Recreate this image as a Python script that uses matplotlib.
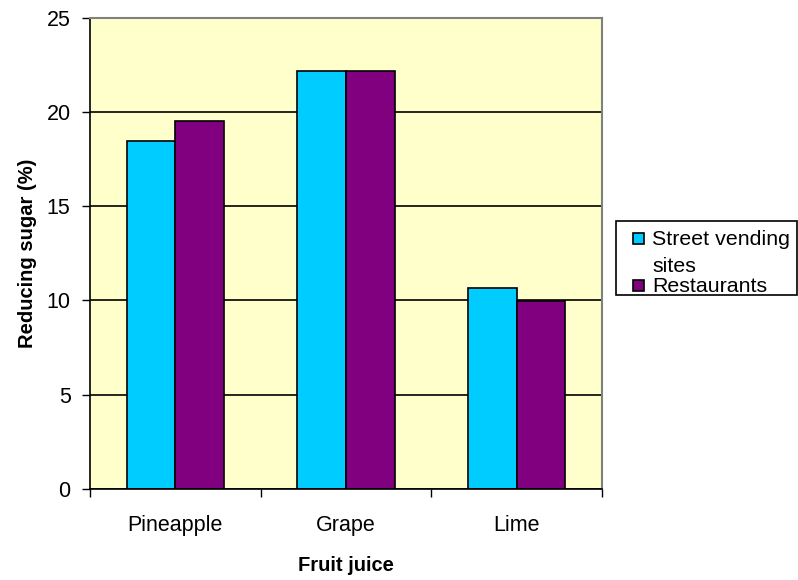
import matplotlib.pyplot as plt
import numpy as np
from matplotlib.patches import Rectangle

plt.rcParams["font.family"] = ["Liberation Sans", "DejaVu Sans"]

# Reducing sugar content of fruit juices by point of sale
juices = ["Pineapple", "Grape", "Lime"]
street_vending = [18.45, 22.15, 10.65]
restaurants = [19.5, 22.15, 9.95]
series_names = ["Street vending\nsites", "Restaurants"]
series_colors = ["#00CCFF", "#800080"]
y_ticks = [0, 5, 10, 15, 20, 25]

W, H = 798, 580
fig = plt.figure(figsize=(W / 100, H / 100), dpi=100)
ax = fig.add_axes([90 / W, 91 / H, 512 / W, 471.5 / H])
ax.set_facecolor("#FFFFCC")

x = np.arange(len(juices))
width = 1 / 3.5  # gap width 150%

ax.set_axisbelow(True)
ax.yaxis.grid(True, color="black", linewidth=1.2)

ax.bar(x - width / 2, street_vending, width, color=series_colors[0],
       edgecolor="black", linewidth=1.2)
ax.bar(x + width / 2, restaurants, width, color=series_colors[1],
       edgecolor="black", linewidth=1.2)

ax.set_xlim(-0.5, len(juices) - 0.5)
ax.set_ylim(0, 25)
ax.set_yticks(y_ticks)

# category labels between boundary ticks
ax.set_xticks(np.arange(len(juices) + 1) - 0.5)
ax.set_xticklabels([])
ax.set_xticks(x, minor=True)
ax.set_xticklabels(juices, minor=True, fontsize=15.5)
ax.tick_params(axis="x", which="minor", length=0, pad=19)
ax.tick_params(axis="x", which="major", length=6, width=1, direction="out")
ax.tick_params(axis="y", length=6, width=1, direction="out", labelsize=15.5, pad=8)

for side in ["top", "right"]:
    ax.spines[side].set_color("#808080")
    ax.spines[side].set_linewidth(1.5)
for side in ["left", "bottom"]:
    ax.spines[side].set_color("black")
    ax.spines[side].set_linewidth(1.2)

ax.set_xlabel("Fruit juice", fontsize=14.5, fontweight="bold", labelpad=14)
ax.set_ylabel("Reducing sugar (%)", fontsize=14.5, fontweight="bold", labelpad=7)


# legend box drawn by hand so the swatch sits on the first text line
def px(xp, yp):
    return xp / W, 1 - yp / H


box_left, box_top, box_right, box_bottom = 616, 221, 797, 295
fig.add_artist(Rectangle(px(box_left, box_bottom), (box_right - box_left) / W,
                         (box_bottom - box_top) / H, transform=fig.transFigure,
                         facecolor="white", edgecolor="black", linewidth=1.2))

baselines = [245, 292.3]
for name, color, base in zip(series_names, series_colors, baselines):
    fig.add_artist(Rectangle(px(632.5, base - 1), 11.5 / W, 11.5 / H,
                             transform=fig.transFigure, facecolor=color,
                             edgecolor="black", linewidth=1.2))
    lines = name.split("\n")
    for i, line in enumerate(lines):
        fig.text(*px(652, base + 27.3 * i), line, fontsize=15.4,
                 va="baseline", ha="left")

fig.savefig("out.png", dpi=100)
